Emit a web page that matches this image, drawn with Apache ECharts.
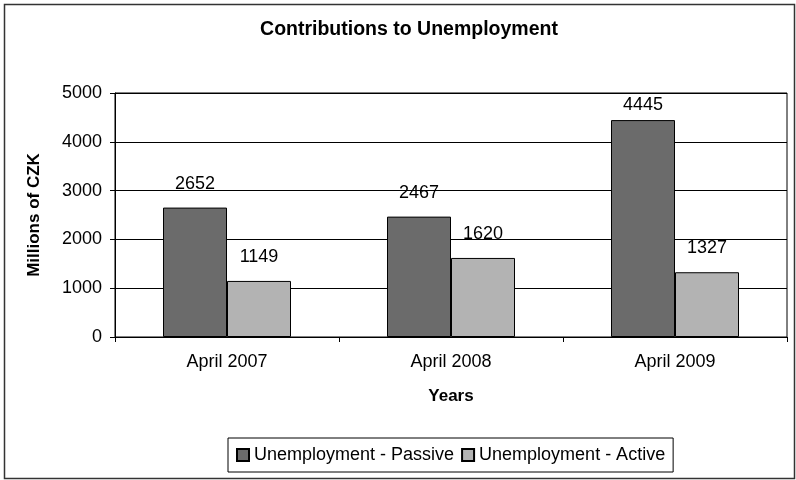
<!DOCTYPE html>
<html>
<head>
<meta charset="utf-8">
<script src="https://cdn.jsdelivr.net/npm/echarts@6/dist/echarts.min.js"></script>
<style>
  html, body { margin: 0; padding: 0; background: #fff; }
  #chart { width: 796px; height: 480px; }
</style>
</head>
<body>
<div id="chart"></div>
<script>
// Contributions to unemployment, millions of CZK
const categories = ['April 2007', 'April 2008', 'April 2009'];
const passiveValues = [2652, 2467, 4445];
const activeValues = [1149, 1620, 1327];
const seriesNames = ['Unemployment - Passive', 'Unemployment - Active'];
const yMax = 5000;

const FONT = '"Liberation Sans", Arial, sans-serif';
const PLOT_H = 244;        // plot height in px (480 - 93 - 143)

const chart = echarts.init(document.getElementById('chart'), null, { renderer: 'canvas' });

// Value labels sit above each bar, but are nudged down so they stay inside the plot frame.
function withLabels(values) {
  return values.map(function (v) {
    const headroom = (yMax - v) / yMax * PLOT_H;
    const dist = Math.max(4, Math.min(15, headroom - 21));
    return { value: v, label: { distance: dist } };
  });
}

const barLabel = {
  show: true,
  position: 'top',
  color: '#000',
  fontFamily: FONT,
  fontSize: 18
};

chart.setOption({
  animation: false,
  backgroundColor: '#fff',
  textStyle: { fontFamily: FONT },
  title: {
    text: 'Contributions to Unemployment',
    left: 404,
    textAlign: 'center',
    top: 15,
    textStyle: { fontFamily: FONT, fontSize: 19.5, fontWeight: 'bold', color: '#000' }
  },
  graphic: [{
    type: 'rect',
    shape: { x: 4.5, y: 4.5, width: 790, height: 474 },
    style: { fill: 'none', stroke: '#333', lineWidth: 1.5 },
    silent: true,
    z: -1
  }],
  legend: {
    left: 228,
    top: 438,
    padding: [8, 8, 8, 8],
    borderColor: '#000',
    borderWidth: 1,
    itemWidth: 12,
    itemHeight: 12,
    itemGap: 7,
    icon: 'rect',
    textStyle: { fontFamily: FONT, fontSize: 18, color: '#000' },
    data: seriesNames
  },
  grid: {
    left: 115,
    right: 9,
    top: 93,
    bottom: 143,
    show: true,
    borderColor: '#000',
    borderWidth: 1,
    containLabel: false
  },
  xAxis: {
    type: 'category',
    data: categories,
    name: 'Years',
    nameLocation: 'middle',
    nameGap: 51,
    nameTextStyle: { fontFamily: FONT, fontSize: 17, fontWeight: 'bold', color: '#000' },
    axisLine: { lineStyle: { color: '#000', width: 1 } },
    axisTick: { show: true, length: 5, inside: false, lineStyle: { color: '#000' } },
    axisLabel: { margin: 16, fontFamily: FONT, fontSize: 18, color: '#000' },
    splitLine: { show: false }
  },
  yAxis: {
    type: 'value',
    min: 0,
    max: yMax,
    interval: 1000,
    name: 'Millions of CZK',
    nameLocation: 'middle',
    nameGap: 72,
    nameRotate: 90,
    nameTextStyle: { fontFamily: FONT, fontSize: 17, fontWeight: 'bold', color: '#000' },
    axisLine: { show: true, lineStyle: { color: '#000', width: 1 } },
    axisTick: { show: true, length: 5, lineStyle: { color: '#000' } },
    axisLabel: {
      margin: 13, fontFamily: FONT, fontSize: 18, color: '#000',
      formatter: function (v) { return String(v); }
    },
    splitLine: { show: true, lineStyle: { color: '#000', width: 1 } }
  },
  series: [
    {
      name: seriesNames[0],
      type: 'bar',
      data: withLabels(passiveValues),
      barWidth: 64,
      barGap: '0%',
      itemStyle: { color: '#6b6b6b', borderColor: '#000', borderWidth: 1 },
      label: barLabel
    },
    {
      name: seriesNames[1],
      type: 'bar',
      data: withLabels(activeValues),
      barWidth: 64,
      barGap: '0%',
      itemStyle: { color: '#b3b3b3', borderColor: '#000', borderWidth: 1 },
      label: barLabel
    }
  ]
});
</script>
</body>
</html>
